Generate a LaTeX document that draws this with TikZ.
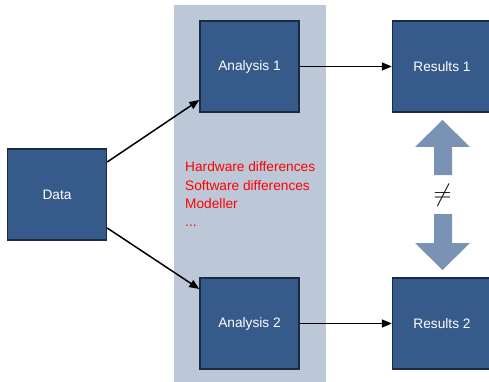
\documentclass[tikz,border=0pt]{standalone}
\usepackage{fontspec}
\setmainfont{Liberation Sans}
\usetikzlibrary{arrows.meta}
\definecolor{boxfill}{HTML}{365A89}
\definecolor{boxline}{HTML}{1B2A40}
\definecolor{band}{HTML}{BCC8D8}
\definecolor{bigarrow}{HTML}{7A93B5}
\begin{document}
\begin{tikzpicture}[x=1pt,y=-1pt,
  block/.style={draw=boxline,line width=1.4pt,fill=boxfill,text=white,
    minimum width=99pt,minimum height=91pt,inner sep=0pt,font=\fontsize{13.7}{16}\selectfont},
  link/.style={-{Triangle[length=10pt,width=8pt]},line width=1.5pt,black},
  note/.style={text=red,anchor=west,inner sep=0pt,font=\fontsize{13.7}{16}\selectfont}]
\useasboundingbox (0,0) rectangle (489,382);
\begin{scope}
\clip (0,0) rectangle (489,382);
% shaded analysis column
\fill[band] (174,5) rectangle (326,382);
% boxes
\node[block] (data) at (57,194.5) {Data};
\node[block] (a1) at (249.5,66.5) {Analysis 1};
\node[block] (a2) at (249.5,323.5) {Analysis 2};
\node[block] (r1) at (442,66.5) {Results 1};
\node[block] (r2) at (442,323.5) {Results 2};
% connectors
\draw[link] (data.east |- 0,162) -- (a1.west |- 0,100);
\draw[link] (data.east |- 0,228) -- (a2.west |- 0,289);
\draw[link] (a1.east) -- (r1.west);
\draw[link] (a2.east) -- (r2.west);
% sources of difference
\node[note] (n1) at (185,167) {Hardware differences};
\node[note] (n2) at (185,186) {Software differences};
\node[note] (n3) at (185,204) {Modeller};
\node[note] (n4) at (185,226) {...};
% opposing block arrows and the not-equal sign
\fill[bigarrow] (434,175) -- (434,147) -- (415,147) -- (442.5,120) -- (470,147) -- (452,147) -- (452,175) -- cycle;
\fill[bigarrow] (434,214) -- (434,243) -- (415,243) -- (442.5,270) -- (470,243) -- (452,243) -- (452,214) -- cycle;
\node[inner sep=0pt] (ne) at (442.5,195) {\fontsize{26}{26}\selectfont$\neq$};
\end{scope}
\end{tikzpicture}
\end{document}
